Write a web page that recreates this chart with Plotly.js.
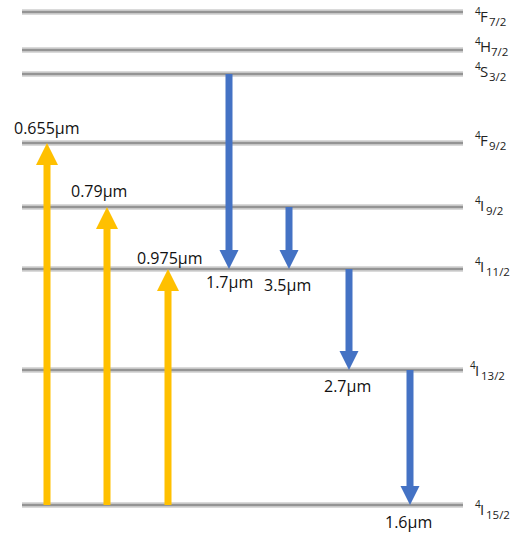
<!DOCTYPE html>
<html><head><meta charset="utf-8">
<script src="https://cdn.plot.ly/plotly-3.0.1.min.js"></script>
<style>html,body{margin:0;padding:0;background:#fff}</style>
</head><body><div id="plot" style="width:510px;height:537px"></div>
<script>
// Energy levels (relative energy, arbitrary units)
const levelMult = ['4','4','4','4','4','4','4','4'];
const levelLetter = ['I','I','I','I','F','S','H','F'];
const levelJ = ['15/2','13/2','11/2','9/2','9/2','3/2','7/2','7/2'];
const levelEnergy = [0, 135, 236, 298, 362, 431, 455, 493];

// Pump (absorption) transitions
const pumpX = [47, 107, 168];
const pumpFrom = [0, 0, 0];
const pumpTo = [4, 3, 2];
const pumpLabels = ['0.655\u03bcm', '0.79\u03bcm', '0.975\u03bcm'];

// Emission transitions
const emitX = [229, 289, 349, 410];
const emitFrom = [5, 3, 2, 1];
const emitTo = [2, 2, 1, 0];
const emitLabels = ['1.7\u03bcm', '3.5\u03bcm', '2.7\u03bcm', '1.6\u03bcm'];

// ---- styling / placement ----
const lineX0 = 22, lineX1 = 463;
const FONT = 'Open Sans, sans-serif';
const labelDy = [-4, 0, 3, 2, 3, 3, 4, -4];      // vertical nudge of level labels (px)
const labelX = [475, 470, 475, 475, 475, 475, 475, 475];
const letterW = {I:6, F:9, S:9, H:11};
const traces = [];
const annotations = [];

levelEnergy.forEach((e, i) => {
  traces.push({x:[lineX0,lineX1], y:[e,e], mode:'lines', line:{color:'rgba(150,150,150,0.35)', width:6}, hoverinfo:'skip', showlegend:false});
  traces.push({x:[lineX0,lineX1], y:[e,e], mode:'lines', line:{color:'rgba(140,140,140,0.9)', width:2.5}, hoverinfo:'skip', showlegend:false});
  const yc = e + labelDy[i];
  const x0 = labelX[i];
  annotations.push({x:x0, y:yc+5, text:levelMult[i], showarrow:false, xanchor:'left', yanchor:'middle', xshift:-2, font:{family:FONT, size:10, color:'#222'}});
  annotations.push({x:x0+5, y:yc, text:levelLetter[i], showarrow:false, xanchor:'left', yanchor:'middle', xshift:-2, font:{family:FONT, size:15, color:'#222'}});
  annotations.push({x:x0+5+letterW[levelLetter[i]], y:yc-5, text:levelJ[i], showarrow:false, xanchor:'left', yanchor:'middle', xshift:-2, font:{family:FONT, size:11.5, color:'#222'}});
});

function arrow(x, yStart, yTip, color, halfShaft, halfHead, headLen) {
  const dir = yTip > yStart ? 1 : -1;
  const base = yTip - dir*headLen;
  return {
    x:[x-halfShaft, x-halfShaft, x-halfHead, x, x+halfHead, x+halfShaft, x+halfShaft, x-halfShaft],
    y:[yStart, base, base, yTip, base, base, yStart, yStart],
    mode:'lines', fill:'toself', fillcolor:color, line:{width:0, color:color}, hoverinfo:'skip', showlegend:false
  };
}

const pumpOffsets = [[0,15],[-8,16],[2,11]];
pumpX.forEach((x, i) => {
  const y0 = levelEnergy[pumpFrom[i]], y1 = levelEnergy[pumpTo[i]];
  traces.push(arrow(x, y0, y1, '#FFC000', 3.5, 11, 22));
  annotations.push({x:x+pumpOffsets[i][0], y:y1+pumpOffsets[i][1], text:pumpLabels[i], showarrow:false, xanchor:'center', yanchor:'middle', font:{family:FONT, size:16, color:'#111'}});
});

const emitOffsets = [[0,-13],[-2,-16],[-2,-16],[-2,-17]];
emitX.forEach((x, i) => {
  const y0 = levelEnergy[emitFrom[i]], y1 = levelEnergy[emitTo[i]];
  traces.push(arrow(x, y0, y1, '#4472C4', 3.5, 9.5, 19));
  annotations.push({x:x+emitOffsets[i][0], y:y1+emitOffsets[i][1], text:emitLabels[i], showarrow:false, xanchor:'center', yanchor:'middle', font:{family:FONT, size:16, color:'#111'}});
});

const layout = {
  width:510, height:537,
  margin:{l:0, r:0, t:0, b:0},
  paper_bgcolor:'#fff', plot_bgcolor:'#fff',
  xaxis:{range:[0,510], visible:false, fixedrange:true},
  yaxis:{range:[-32,505], visible:false, fixedrange:true},
  annotations:annotations,
  showlegend:false
};
Plotly.newPlot('plot', traces, layout, {staticPlot:true});
</script></body></html>
